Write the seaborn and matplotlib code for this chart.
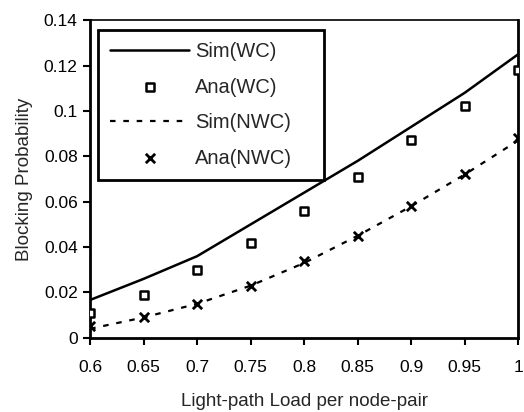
import numpy as np
import pandas as pd
import seaborn as sns
import matplotlib.pyplot as plt

# values
load = [0.6, 0.65, 0.7, 0.75, 0.8, 0.85, 0.9, 0.95, 1.0]
sim_wc = [0.0167, 0.026, 0.036, 0.050, 0.064, 0.078, 0.093, 0.108, 0.125]
ana_wc = [0.011, 0.019, 0.030, 0.042, 0.056, 0.071, 0.087, 0.102, 0.118]
sim_nwc = [0.004, 0.009, 0.015, 0.023, 0.033, 0.045, 0.058, 0.072, 0.087]
ana_nwc = [0.005, 0.009, 0.015, 0.023, 0.034, 0.045, 0.058, 0.072, 0.088]

x_ticks = [0.6, 0.65, 0.7, 0.75, 0.8, 0.85, 0.9, 0.95, 1.0]
x_labels = ["0.6", "0.65", "0.7", "0.75", "0.8", "0.85", "0.9", "0.95", "1"]
y_ticks = [0, 0.02, 0.04, 0.06, 0.08, 0.1, 0.12, 0.14]
y_labels = ["0", "0.02", "0.04", "0.06", "0.08", "0.1", "0.12", "0.14"]

df = pd.DataFrame({"load": load, "sim_wc": sim_wc, "ana_wc": ana_wc,
                   "sim_nwc": sim_nwc, "ana_nwc": ana_nwc})

sns.set_style("white")
plt.rcParams['font.family'] = ['Liberation Sans', 'DejaVu Sans']

fig = plt.figure(figsize=(5.24, 4.12), dpi=100)
ax = fig.add_axes([0.172, 0.180, 0.817, 0.771])

sns.lineplot(data=df, x="load", y="sim_wc", ax=ax, color="black", linewidth=1.8, label="Sim(WC)")
sns.scatterplot(data=df, x="load", y="ana_wc", ax=ax, marker="s", s=40, facecolor="white",
                edgecolor="black", linewidth=1.8, label="Ana(WC)", zorder=3)
sns.lineplot(data=df, x="load", y="sim_nwc", ax=ax, color="black", linewidth=1.6,
             dashes=False, label="Sim(NWC)")
ax.lines[-1].set_dashes((2.5, 3.5))
sns.scatterplot(data=df, x="load", y="ana_nwc", ax=ax, marker="x", s=45, color="black",
                linewidth=2, label="Ana(NWC)", zorder=3)

ax.set_xlim(0.6, 1.0)
ax.set_ylim(0, 0.14)
ax.set_xticks(x_ticks)
ax.set_xticklabels(x_labels)
ax.set_yticks(y_ticks)
ax.set_yticklabels(y_labels)
ax.tick_params(axis="both", labelsize=12.5, direction="out", length=5, width=1.5, colors="black")
ax.tick_params(axis="x", pad=11)
ax.tick_params(axis="y", pad=4)
ax.xaxis.set_ticks_position("bottom")
ax.yaxis.set_ticks_position("left")

for side in ["left", "bottom", "right"]:
    ax.spines[side].set_linewidth(2)
    ax.spines[side].set_color("black")
ax.spines["top"].set_linewidth(1.2)
ax.spines["top"].set_color("black")

ax.set_xlabel("Light-path Load per node-pair", fontsize=13.5, labelpad=13)
ax.set_ylabel("Blocking Probability", fontsize=13.5, labelpad=8)

leg = ax.legend(loc="upper left", bbox_to_anchor=(0.019, 0.0, 0.528, 0.969), mode="expand",
                borderaxespad=0, fontsize=14.5, handlelength=3.9, labelspacing=0.82,
                fancybox=False, framealpha=1, edgecolor="black", borderpad=0.6,
                handletextpad=0.3)
leg.get_frame().set_linewidth(2)

fig.savefig("out.png", dpi=100)
